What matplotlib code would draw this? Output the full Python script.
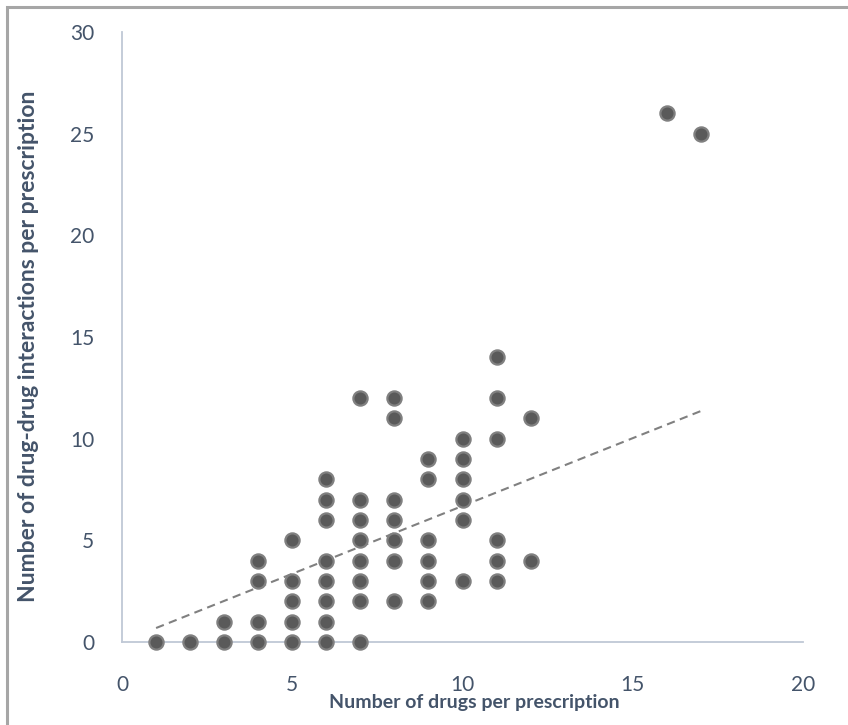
import matplotlib
matplotlib.use('Agg')
import matplotlib.pyplot as plt
import numpy as np
from matplotlib.patches import Rectangle

# number of drugs per prescription vs number of drug-drug interactions
drugs = [1, 2, 3, 3,
         4, 4, 4, 4,
         5, 5, 5, 5, 5,
         6, 6, 6, 6, 6, 6, 6, 6,
         7, 7, 7, 7, 7, 7, 7, 7,
         8, 8, 8, 8, 8, 8, 8,
         9, 9, 9, 9, 9, 9,
         10, 10, 10, 10, 10, 10,
         11, 11, 11, 11, 11, 11,
         12, 12,
         16, 17]
interactions = [0, 0, 0, 1,
                0, 1, 3, 4,
                0, 1, 2, 3, 5,
                0, 1, 2, 3, 4, 6, 7, 8,
                0, 2, 3, 4, 5, 6, 7, 12,
                2, 4, 5, 6, 7, 11, 12,
                2, 3, 4, 5, 8, 9,
                3, 6, 7, 8, 9, 10,
                3, 4, 5, 10, 12, 14,
                4, 11,
                26, 25]

# linear trendline (slope, intercept)
trend_coef = [0.667, 0.02]

x_ticks = [0, 5, 10, 15, 20]
y_ticks = [0, 5, 10, 15, 20, 25, 30]

text_col = '#44546A'
axis_col = '#BFC8D6'

plt.rcParams['font.family'] = ['Lato', 'DejaVu Sans']

fig = plt.figure(figsize=(8.48, 7.25), dpi=100)
ax = fig.add_axes([0.1439, 0.1145, 0.8031, 0.8414])

# outer chart border (only left and top are visible)
fig.patches.append(Rectangle((7 / 848, -0.01), 2.0, 1.0 - 7 / 725 + 0.01,
                             transform=fig.transFigure, fill=False,
                             edgecolor='#A6A6A6', linewidth=2.2))

X = np.array(drugs)
Y = np.array(interactions)

p = np.poly1d(trend_coef)
xs = np.array([X.min(), X.max()])
ax.plot(xs, p(xs), linestyle=(0, (4, 2.6)), color='#808080', linewidth=1.5, zorder=2)

ax.scatter(X, Y, s=105, color='#5A5A5A', edgecolors='#808080', linewidths=1.6,
           zorder=3, clip_on=False)

ax.set_xlim(0, 20)
ax.set_ylim(0, 30)
ax.set_xticks(x_ticks)
ax.set_yticks(y_ticks)
ax.tick_params(length=0, labelsize=15, colors=text_col)
ax.tick_params(axis='x', pad=24)
ax.tick_params(axis='y', pad=20)

for s in ['top', 'right']:
    ax.spines[s].set_visible(False)
for s in ['left', 'bottom']:
    ax.spines[s].set_color(axis_col)
    ax.spines[s].set_linewidth(1.3)

ax.set_xlabel('Number of drugs per prescription', fontsize=14, fontweight='bold',
              color=text_col, va='center')
ax.set_ylabel('Number of drug-drug interactions per prescription', fontsize=16.5,
              fontweight='bold', color=text_col, va='center')
ax.xaxis.set_label_coords(0.517, -0.1)
ax.yaxis.set_label_coords(-0.138, 0.485)

plt.savefig('out.png', dpi=100)
